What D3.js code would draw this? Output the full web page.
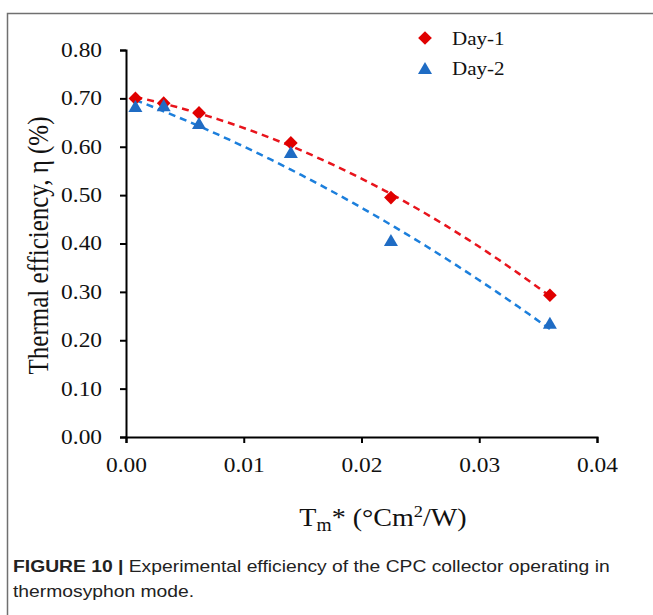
<!DOCTYPE html>
<html>
<head>
<meta charset="utf-8">
<script src="https://cdn.jsdelivr.net/npm/d3@7"></script>
<style>
  body { margin: 0; background: #fff; }
  svg { display: block; }
</style>
</head>
<body>
<div id="chart"></div>
<script>
// Data
const xValues = [0.0008, 0.0032, 0.0062, 0.014, 0.0225, 0.036];
const day1 = [0.700, 0.690, 0.670, 0.608, 0.495, 0.293];
const day2 = [0.680, 0.682, 0.645, 0.585, 0.403, 0.232];
const xTicks = [0, 0.01, 0.02, 0.03, 0.04];
const yTicks = [0, 0.1, 0.2, 0.3, 0.4, 0.5, 0.6, 0.7, 0.8];

const W = 653, H = 615;
const margin = { left: 126, right: 56, top: 50, bottom: 178 };
// the source picture is a little stretched sideways, so is its text
const stretch = 1.17;

const svg = d3.select('#chart')
    .append('svg')
    .attr('width', W)
    .attr('height', H);

// Figure frame (left and top edges visible)
svg.append('rect')
    .attr('x', 7.5)
    .attr('y', 13.5)
    .attr('width', 700)
    .attr('height', 700)
    .attr('fill', 'none')
    .attr('stroke', '#707070')
    .attr('stroke-width', 1.5);

const x = d3.scaleLinear()
    .domain([0, 0.04])
    .range([margin.left, W - margin.right]);

const y = d3.scaleLinear()
    .domain([0, 0.8])
    .range([H - margin.bottom, margin.top]);

const serif = '"Liberation Serif", "Times New Roman", serif';

// Axes
const xAxis = svg.append('g')
    .attr('transform', `translate(0,${y(0)})`)
    .call(d3.axisBottom(x).tickValues(xTicks).tickFormat(d3.format('.2f')).tickSizeOuter(0).tickSize(6));

const yAxis = svg.append('g')
    .attr('transform', `translate(${x(0)},0)`)
    .call(d3.axisLeft(y).tickValues(yTicks).tickFormat(d3.format('.2f')).tickSizeOuter(0).tickSize(6));

[xAxis, yAxis].forEach(g => {
    g.select('.domain').attr('stroke', '#000').attr('stroke-width', 2);
    g.selectAll('.tick line').attr('stroke', '#000').attr('stroke-width', 2);
    g.selectAll('.tick text')
        .style('font-family', serif)
        .style('font-size', '20px')
        .attr('fill', '#111')
        .attr('transform', `scale(${stretch},1)`);
});
yAxis.selectAll('.tick text').attr('x', -24 / stretch);
xAxis.selectAll('.tick text').attr('y', 21);

// Quadratic least-squares trendline (like the spreadsheet's polynomial fit)
function quadFit(xs, ys) {
    let s = [0, 0, 0, 0, 0], t = [0, 0, 0];
    xs.forEach((xv, i) => {
        for (let k = 0; k < 5; k++) s[k] += Math.pow(xv, k);
        for (let k = 0; k < 3; k++) t[k] += Math.pow(xv, k) * ys[i];
    });
    const A = [[s[0], s[1], s[2], t[0]], [s[1], s[2], s[3], t[1]], [s[2], s[3], s[4], t[2]]];
    for (let i = 0; i < 3; i++) {
        for (let j = i + 1; j < 3; j++) {
            const f = A[j][i] / A[i][i];
            for (let k = i; k < 4; k++) A[j][k] -= f * A[i][k];
        }
    }
    const c = [0, 0, 0];
    for (let i = 2; i >= 0; i--) {
        let v = A[i][3];
        for (let k = i + 1; k < 3; k++) v -= A[i][k] * c[k];
        c[i] = v / A[i][i];
    }
    return xv => c[0] + c[1] * xv + c[2] * xv * xv;
}

const series = [
    { name: 'Day-1', values: day1, color: '#e00000', line: '#e8141c', symbol: d3.symbolDiamond2, size: 120 },
    { name: 'Day-2', values: day2, color: '#1f6cc4', line: '#1c7fdc', symbol: d3.symbolTriangle, size: 85 }
];

const line = d3.line()
    .x(d => x(d[0]))
    .y(d => y(d[1]));

series.forEach(s => {
    const fit = quadFit(xValues, s.values);
    const x0 = xValues[0], x1 = xValues[xValues.length - 1];
    const pts = d3.range(0, 41).map(i => {
        const xv = x0 + (x1 - x0) * i / 40;
        return [xv, fit(xv)];
    });
    svg.append('path')
        .datum(pts)
        .attr('d', line)
        .attr('fill', 'none')
        .attr('stroke', s.line)
        .attr('stroke-width', 2.5)
        .attr('stroke-dasharray', '7,5');
});

series.forEach(s => {
    svg.selectAll(null)
        .data(s.values)
        .enter()
        .append('path')
        .attr('transform', (d, i) => `translate(${x(xValues[i])},${y(d)})`)
        .attr('d', d3.symbol().type(s.symbol).size(s.size))
        .attr('fill', s.color);
});

// Legend
const legend = svg.append('g').attr('transform', 'translate(425,38)');
series.forEach((s, i) => {
    const item = legend.append('g').attr('transform', `translate(0,${i * 30})`);
    item.append('path')
        .attr('transform', `translate(0,${i === 1 ? 2 : 0})`)
        .attr('d', d3.symbol().type(s.symbol).size(s.size))
        .attr('fill', s.color);
    item.append('text')
        .attr('transform', `translate(27,7) scale(${stretch},1)`)
        .style('font-family', serif)
        .style('font-size', '18px')
        .attr('fill', '#111')
        .text(s.name);
});

// Axis titles
svg.append('text')
    .attr('transform', `translate(48,${(y(0) + y(0.8)) / 2 + 2}) rotate(-90) scale(1,${stretch})`)
    .attr('text-anchor', 'middle')
    .style('font-family', serif)
    .style('font-size', '25px')
    .attr('fill', '#111')
    .text('Thermal efficiency, η (%)');

const xt = svg.append('text')
    .attr('transform', `translate(383,526) scale(1.08,1)`)
    .attr('text-anchor', 'middle')
    .style('font-family', serif)
    .style('font-size', '26px')
    .attr('fill', '#111');
xt.append('tspan').text('T');
xt.append('tspan').attr('dy', 5).style('font-size', '18px').text('m');
xt.append('tspan').attr('dy', -5).text('* (°Cm');
xt.append('tspan').attr('dy', -9).style('font-size', '17px').text('2');
xt.append('tspan').attr('dy', 9).text('/W)');

// Caption
const cap = svg.append('g')
    .attr('transform', `translate(13,0) scale(1.135,1)`)
    .style('font-family', '"Liberation Sans", Arial, sans-serif')
    .style('font-size', '17px')
    .attr('fill', '#222');
const c1 = cap.append('text').attr('x', 0).attr('y', 572);
c1.append('tspan').style('font-weight', 'bold').text('FIGURE 10 | ');
c1.append('tspan').text('Experimental efficiency of the CPC collector operating in');
cap.append('text').attr('x', 0).attr('y', 597).text('thermosyphon mode.');
</script>
</body>
</html>
